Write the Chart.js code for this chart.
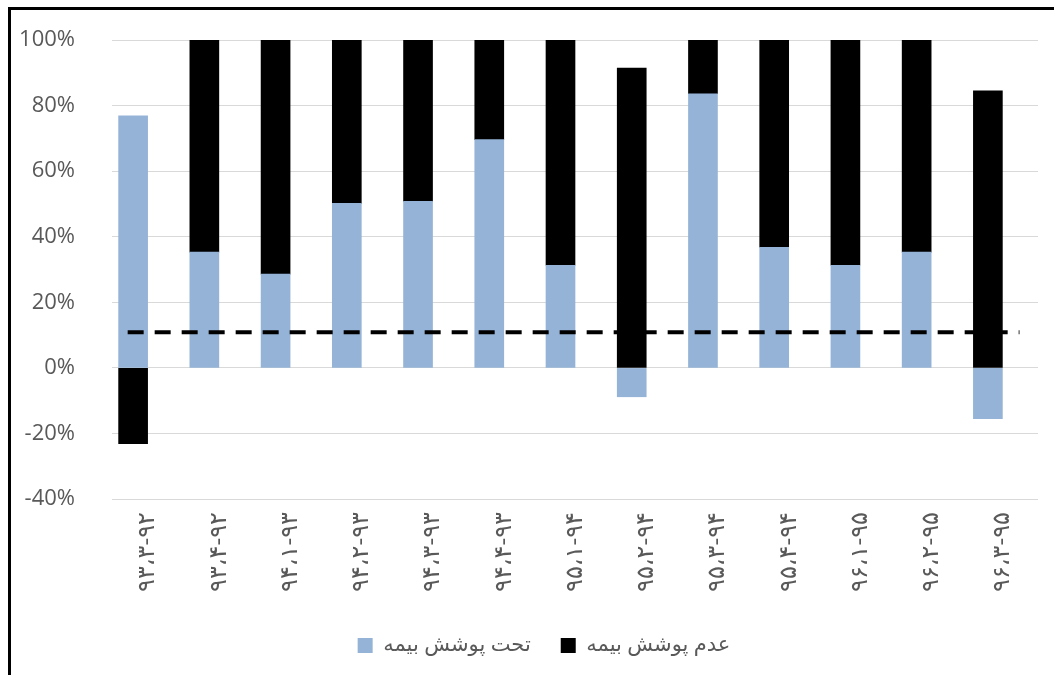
<!DOCTYPE html>
<html>
<head>
<meta charset="utf-8">
<script src="https://cdn.jsdelivr.net/npm/chart.js@4.4.1/dist/chart.umd.min.js"></script>
<style>
  html, body { margin: 0; padding: 0; background: #fff; overflow: hidden; }
  #wrap { position: absolute; left: 0; top: 0; width: 1054px; height: 675px; }
  #frame {
    position: absolute; left: 8px; top: 7px; width: 1100px; height: 720px;
    border-top: 3px solid #000; border-left: 3px solid #000; pointer-events: none;
  }
</style>
</head>
<body>
<div id="wrap"><canvas id="coverChart" width="1054" height="675"></canvas></div>
<div id="frame"></div>
<script>
// دوره‌ها (محور افقی)
const periods = [
  "۹۳،۳-۹۲", "۹۳،۴-۹۲", "۹۴،۱-۹۳", "۹۴،۲-۹۳", "۹۴،۳-۹۳", "۹۴،۴-۹۳", "۹۵،۱-۹۴",
  "۹۵،۲-۹۴", "۹۵،۳-۹۴", "۹۵،۴-۹۴", "۹۶،۱-۹۵", "۹۶،۲-۹۵", "۹۶،۳-۹۵"
];

// سهم تحت پوشش بیمه (درصد)
const covered = [76.9, 35.3, 28.6, 50.2, 50.8, 69.6, 31.3, -8.8, 83.6, 36.8, 31.3, 35.3, -15.5];

// سهم عدم پوشش بیمه (درصد)
const uncovered = [-23.1, 64.7, 71.4, 49.8, 49.2, 30.4, 68.7, 91.4, 16.4, 63.2, 68.7, 64.7, 84.5];

// خط افقی مرجع
const refLevel = 10.9;
const refSpan = [-0.28, 12.24];

const yTicks = [-40, -20, 0, 20, 40, 60, 80, 100];

const seriesNames = ["تحت پوشش بیمه", "عدم پوشش بیمه"];

const FONT = "'Open Sans', 'DejaVu Sans', sans-serif";
const TEXT = "#595959";

// راهنما کمی به راست، زیر وسط نمودار
const legendShift = {
  id: "legendShift",
  afterLayout(chart) {
    chart.legend.left += 20;
    chart.legend.right += 20;
  }
};

const ctx = document.getElementById("coverChart").getContext("2d");

new Chart(ctx, {
  type: "bar",
  plugins: [legendShift],
  data: {
    labels: periods,
    datasets: [
      {
        label: seriesNames[0],
        data: covered,
        backgroundColor: "#95b3d7",
        order: 1,
        barThickness: 29
      },
      {
        label: seriesNames[1],
        data: uncovered,
        backgroundColor: "#000000",
        order: 1,
        barThickness: 29
      },
      {
        type: "line",
        label: "ref",
        data: refSpan.map(x => ({ x, y: refLevel })),
        xAxisID: "x2",
        borderColor: "#000",
        borderWidth: 4,
        borderDash: [16, 11],
        pointRadius: 0,
        fill: false,
        order: 0
      }
    ]
  },
  options: {
    responsive: false,
    animation: false,
    layout: { padding: { left: 10, right: 16, top: 40, bottom: 9 } },
    plugins: {
      tooltip: { enabled: false },
      legend: {
        position: "bottom",
        labels: {
          filter: item => item.text !== "ref",
          boxWidth: 15,
          boxHeight: 15,
          padding: 30,
          color: TEXT,
          font: { family: FONT, size: 21 }
        }
      }
    },
    scales: {
      x: {
        stacked: true,
        // برچسب‌های چرخیده فضای اضافه در دو سر محور نگیرند
        afterFit: scale => { scale.paddingLeft = 0; scale.paddingRight = 0; },
        grid: { display: false, drawTicks: false },
        border: { display: false },
        ticks: {
          minRotation: 90,
          maxRotation: 90,
          padding: 13,
          color: TEXT,
          font: { family: FONT, size: 24 }
        }
      },
      x2: {
        type: "linear",
        display: false,
        offset: false,
        min: -0.5,
        max: 12.5
      },
      y: {
        stacked: true,
        min: -40,
        max: 100,
        afterBuildTicks: scale => { scale.ticks = yTicks.map(v => ({ value: v })); },
        afterFit: scale => {
          scale.width = 102;
          scale.paddingTop = 15;
          scale.paddingBottom = 15;
        },
        grid: { color: "#d9d9d9", lineWidth: 1, drawTicks: false },
        border: { display: false },
        ticks: {
          padding: 37,
          color: TEXT,
          font: { family: FONT, size: 22 },
          callback: v => v + "%"
        }
      }
    }
  }
});
</script>
</body>
</html>
